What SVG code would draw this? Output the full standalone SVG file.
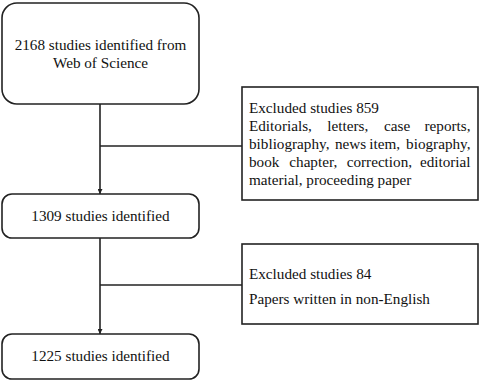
<svg xmlns="http://www.w3.org/2000/svg" width="482" height="381" viewBox="0 0 482 381">
<style>
.box{fill:#fff;stroke:#222;stroke-width:1.6}
.t{font-family:"Liberation Serif","Times New Roman",serif;font-size:15.2px;fill:#111}
.c{text-anchor:middle}
.e{text-anchor:end}
.ln{stroke:#222;stroke-width:1.6;fill:none}
</style>
<defs>
<marker id="ah" viewBox="0 0 10 10" refX="10" refY="5" markerWidth="5" markerHeight="5" orient="auto" markerUnits="userSpaceOnUse">
<path d="M0,0 L10,5 L0,10 z" fill="#222"/>
</marker>
</defs>
<g id="connectors">
<line class="ln" x1="100" y1="104" x2="100" y2="194" marker-end="url(#ah)"/>
<line class="ln" x1="100" y1="146" x2="242" y2="146"/>
<line class="ln" x1="100" y1="238" x2="100" y2="334" marker-end="url(#ah)"/>
<line class="ln" x1="100" y1="285" x2="242" y2="285"/>
</g>
<g id="n1">
<rect class="box" x="2" y="3" width="197" height="101" rx="15"/>
<text class="t c" x="100.5" y="50">2168 studies identified from</text>
<text class="t c" x="100.5" y="68">Web of Science</text>
</g>
<g id="n2">
<rect class="box" x="2" y="194" width="197" height="44" rx="10"/>
<text class="t c" x="100.5" y="221">1309 studies identified</text>
</g>
<g id="n3">
<rect class="box" x="2" y="334" width="197" height="45" rx="10"/>
<text class="t c" x="100.5" y="361">1225 studies identified</text>
</g>
<g id="e1">
<rect class="box" x="242" y="87" width="236" height="113"/>
<text class="t" x="249" y="113">Excluded studies 859</text>
<text class="t" y="131"><tspan x="249">Editorials,</tspan><tspan x="327.3">letters,</tspan><tspan x="384">case</tspan></text>
<text class="t e" x="470.5" y="131">reports,</text>
<text class="t" y="149"><tspan x="249">bibliography,</tspan><tspan x="335">news</tspan><tspan x="369.3">item,</tspan></text>
<text class="t e" x="470.5" y="149">biography,</text>
<text class="t" y="167"><tspan x="249">book</tspan><tspan x="289.3">chapter,</tspan><tspan x="346.7">correction,</tspan></text>
<text class="t e" x="470.5" y="167">editorial</text>
<text class="t" x="249" y="185">material, proceeding paper</text>
</g>
<g id="e2">
<rect class="box" x="242" y="244" width="236" height="80"/>
<text class="t" x="249" y="279">Excluded studies 84</text>
<text class="t" x="249" y="304">Papers written in non-English</text>
</g>
</svg>
